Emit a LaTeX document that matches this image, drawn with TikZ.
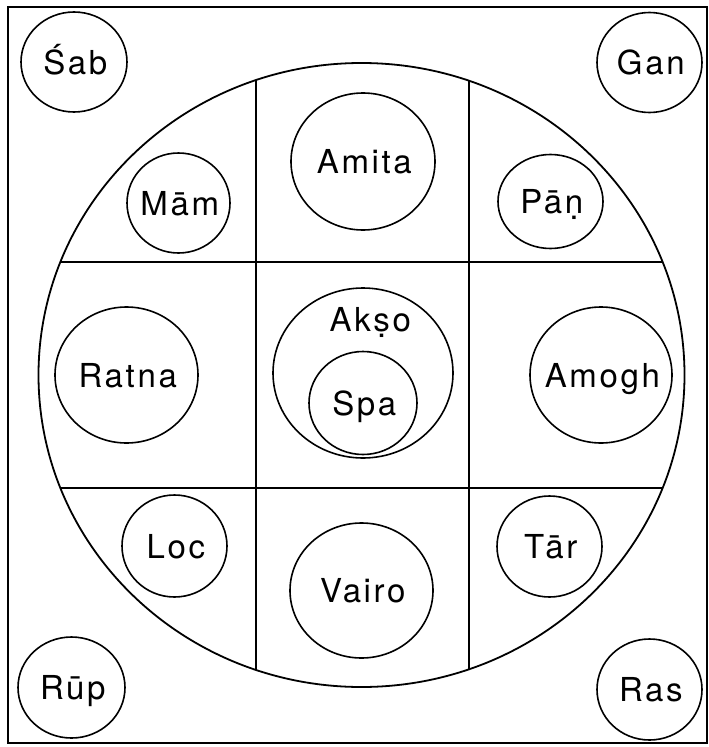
\documentclass[tikz,border=0pt]{standalone}
\usepackage{fontspec}
\setmainfont{TeX Gyre Heros}[LetterSpace=8]
\usetikzlibrary{shapes.geometric}
\begin{document}
\begin{tikzpicture}[x=1pt,y=-1pt,
  lbl/.style={inner sep=0pt, font=\fontsize{33}{39}\selectfont, text height=24pt, text depth=0pt, xshift=1.3pt},
  ring/.style={draw, ellipse, inner sep=0pt, line width=1.6pt},
  frame/.style={line width=1.8pt},
  grid/.style={line width=1.8pt}]
\useasboundingbox (0,0) rectangle (709,747);
\draw[frame] (8,7) rectangle (707,743);
\node[draw, ellipse, frame, inner sep=0pt, minimum width=646pt, minimum height=624pt] (mandala) at (361.5,375) {};
% grid line end points on the big circle
\coordinate (v1t) at (256,80.1);
\coordinate (v1b) at (256,669.9);
\coordinate (v2t) at (469,80.8);
\coordinate (v2b) at (469,669.2);
\coordinate (h1l) at (60.4,262);
\coordinate (h1r) at (662.6,262);
\coordinate (h2l) at (60.4,488);
\coordinate (h2r) at (662.6,488);
\draw[grid] (v1t) -- (v1b);
\draw[grid] (v2t) -- (v2b);
\draw[grid] (h1l) -- (h1r);
\draw[grid] (h2l) -- (h2r);
% corner circles
\node[ring, minimum width=106pt, minimum height=100pt, label={[lbl]center:Śab}] (sab) at (74,62) {};
\node[ring, minimum width=105pt, minimum height=100pt, label={[lbl]center:Gan}] (gan) at (649.5,62.5) {};
\node[ring, minimum width=107pt, minimum height=101pt, label={[lbl]center:Rūp}] (rup) at (71.5,687.5) {};
\node[ring, minimum width=105pt, minimum height=101pt, label={[lbl]center:Ras}] (ras) at (649.5,689.5) {};
% inner circles
\node[ring, minimum width=103pt, minimum height=100pt, label={[lbl]center:Mām}] (mam) at (178.5,203) {};
\node[ring, minimum width=144pt, minimum height=137pt, label={[lbl]center:Amita}] (amita) at (363,161.5) {};
\node[ring, minimum width=105pt, minimum height=94pt, label={[lbl]center:Pāṇ}] (pan) at (550.5,201.5) {};
\node[ring, minimum width=143pt, minimum height=136pt, label={[lbl]center:Ratna}] (ratna) at (126.5,375) {};
\node[ring, minimum width=180pt, minimum height=170pt] (akso) at (363,373) {};
\node[lbl] (aksotext) at (369,319) {Akṣo};
\node[ring, minimum width=108pt, minimum height=103pt, label={[lbl]center:Spa}] (spa) at (363,403) {};
\node[ring, minimum width=142pt, minimum height=136pt, label={[lbl]center:Amogh}] (amogh) at (601,375) {};
\node[ring, minimum width=105pt, minimum height=102pt, label={[lbl]center:Loc}] (loc) at (174.5,546) {};
\node[ring, minimum width=143pt, minimum height=135pt, label={[lbl]center:Vairo}] (vairo) at (361.5,590.5) {};
\node[ring, minimum width=105pt, minimum height=101pt, label={[lbl]center:Tār}] (tar) at (549.5,546.5) {};
\end{tikzpicture}
\end{document}
